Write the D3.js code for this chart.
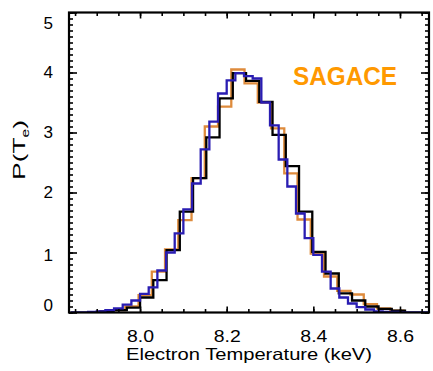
<!DOCTYPE html>
<html>
<head>
<meta charset="utf-8">
<script src="https://cdn.jsdelivr.net/npm/d3@7"></script>
<style>
body { margin: 0; background: #fff; }
text { font-family: "Liberation Sans", Arial, sans-serif; }
</style>
</head>
<body>
<svg id="chart" width="433" height="371"></svg>
<script>
var svg = d3.select('#chart');

// histograms: first bin edge (keV), bin width (keV), P(Te) per bin
const blackStart = 7.9083, blackWidth = 0.03058;
const blackVals = [0.02, 0.04, 0.08, 0.25, 0.54, 1.04, 1.68, 2.24, 2.92, 3.57, 3.99, 3.86,
                   3.51, 2.96, 2.44, 1.68, 1.01, 0.65, 0.32, 0.20, 0.10, 0.06, 0.03];

const orangeStart = 7.9048, orangeWidth = 0.03058;
const orangeVals = [0.02, 0.04, 0.10, 0.29, 0.68, 1.05, 1.54, 2.24, 3.10, 3.43, 4.05, 3.82,
                    3.50, 3.07, 2.32, 1.55, 0.98, 0.60, 0.36, 0.30, 0.14, 0.07, 0.03];

const blueStart = 7.84, blueWidth = 0.02;
const blueVals = [0, 0, 0.01, 0.02, 0.04, 0.07, 0.13, 0.20, 0.31, 0.42, 0.70, 1.00, 1.32,
                  1.72, 2.15, 2.72, 3.18, 3.65, 3.87, 3.99, 3.94, 3.90, 3.50, 3.12, 2.55,
                  2.10, 1.65, 1.24, 0.96, 0.68, 0.40, 0.25, 0.15, 0.09, 0.05, 0.02, 0.01,
                  0.01, 0, 0, 0, 0];

const xMajor = [8.0, 8.2, 8.4, 8.6];
const yMajor = [0, 1, 2, 3, 4, 5];

const margin = {left: 69, right: 4, top: 12.5, bottom: 58.5};
const W = +svg.attr('width');
const H = +svg.attr('height');

const x = d3.scaleLinear().domain([7.836, 8.667]).range([margin.left, W - margin.right]);
const y = d3.scaleLinear().domain([0, 5]).range([H - margin.bottom, margin.top]);

const xMinor = d3.range(7.85, 8.66, 0.05);
const yMinor = d3.range(0, 5.001, 0.1);

svg.append('clipPath').attr('id', 'clip')
    .append('rect')
    .attr('x', margin.left).attr('y', margin.top)
    .attr('width', W - margin.left - margin.right)
    .attr('height', H - margin.top - margin.bottom);

const stepLine = d3.line()
    .x(d => x(d[0]))
    .y(d => y(d[1]))
    .curve(d3.curveStepAfter);

const histPoints = (start, width, vals) => {
    var pts = [[start, 0]];
    vals.forEach((v, i) => pts.push([start + i * width, v]));
    pts.push([start + vals.length * width, 0]);
    return pts;
};

const plot = svg.append('g').attr('clip-path', 'url(#clip)');

const series = [
    {vals: orangeVals, start: orangeStart, width: orangeWidth, color: '#de8b3c'},
    {vals: blackVals, start: blackStart, width: blackWidth, color: '#000000'},
    {vals: blueVals, start: blueStart, width: blueWidth, color: '#2a1db2'}
];

series.forEach(s => {
    plot.append('path')
        .attr('d', stepLine(histPoints(s.start, s.width, s.vals)))
        .attr('fill', 'none')
        .attr('stroke', s.color)
        .attr('stroke-width', 2.3)
        .attr('stroke-linejoin', 'miter');
});

// axes, ticks pointing inward
const axisStyle = g => {
    g.select('.domain').remove();
    g.selectAll('line').attr('stroke', '#000').attr('stroke-width', 1.6);
};

svg.append('g').attr('transform', 'translate(0,' + y(0) + ')')
    .call(d3.axisBottom(x).tickValues(xMinor).tickSizeInner(-3.5).tickSizeOuter(0).tickFormat(''))
    .call(axisStyle);
const xAxis = svg.append('g').attr('transform', 'translate(0,' + y(0) + ')')
    .call(d3.axisBottom(x).tickValues(xMajor).tickSizeInner(-6).tickSizeOuter(0)
        .tickPadding(18.5).tickFormat(d3.format('.1f')))
    .call(axisStyle);
xAxis.selectAll('text')
    .attr('font-size', 16)
    .attr('fill', '#000')
    .attr('textLength', 27)
    .attr('lengthAdjust', 'spacingAndGlyphs');

svg.append('g').attr('transform', 'translate(0,' + y(5) + ')')
    .call(d3.axisTop(x).tickValues(xMinor).tickSizeInner(-3.5).tickSizeOuter(0).tickFormat(''))
    .call(axisStyle);
svg.append('g').attr('transform', 'translate(0,' + y(5) + ')')
    .call(d3.axisTop(x).tickValues(xMajor).tickSizeInner(-6).tickSizeOuter(0).tickFormat(''))
    .call(axisStyle);

svg.append('g').attr('transform', 'translate(' + x.range()[0] + ',0)')
    .call(d3.axisLeft(y).tickValues(yMinor).tickSizeInner(-4).tickSizeOuter(0).tickFormat(''))
    .call(axisStyle);
const yAxis = svg.append('g').attr('transform', 'translate(' + x.range()[0] + ',0)')
    .call(d3.axisLeft(y).tickValues(yMajor).tickSizeInner(-8).tickSizeOuter(0)
        .tickPadding(16).tickFormat(d3.format('d')))
    .call(axisStyle);
yAxis.selectAll('text')
    .attr('font-size', 16.5)
    .attr('fill', '#000')
    .attr('textLength', 9.5)
    .attr('lengthAdjust', 'spacingAndGlyphs')
    .attr('y', d => d === 5 ? 11 : (d === 0 ? -7.5 : (d === 1 ? 2.5 : 0)));

svg.append('g').attr('transform', 'translate(' + x.range()[1] + ',0)')
    .call(d3.axisRight(y).tickValues(yMinor).tickSizeInner(-4).tickSizeOuter(0).tickFormat(''))
    .call(axisStyle);
svg.append('g').attr('transform', 'translate(' + x.range()[1] + ',0)')
    .call(d3.axisRight(y).tickValues(yMajor).tickSizeInner(-8).tickSizeOuter(0).tickFormat(''))
    .call(axisStyle);

// frame
svg.append('rect')
    .attr('x', x.range()[0]).attr('y', y(5))
    .attr('width', x.range()[1] - x.range()[0])
    .attr('height', y(0) - y(5))
    .attr('fill', 'none')
    .attr('stroke', '#000')
    .attr('stroke-width', 2.2);

// axis titles
svg.append('text')
    .attr('x', (x.range()[0] + x.range()[1]) / 2)
    .attr('y', 359.5)
    .attr('text-anchor', 'middle')
    .attr('font-size', 16.5)
    .attr('textLength', 246)
    .attr('lengthAdjust', 'spacingAndGlyphs')
    .text('Electron Temperature (keV)');

const ylab = svg.append('text')
    .attr('transform', 'translate(25,150) rotate(-90) scale(1.55,1)')
    .attr('text-anchor', 'middle')
    .attr('font-size', 17);
ylab.append('tspan').text('P(T');
ylab.append('tspan').attr('font-size', 10).attr('dy', 4).text('e');
ylab.append('tspan').attr('dy', -4).text(')');

svg.append('text')
    .attr('x', 293)
    .attr('y', 85)
    .attr('font-family', '"Open Sans", sans-serif')
    .attr('font-weight', 600)
    .attr('font-size', 25)
    .attr('fill', '#ff9900')
    .attr('textLength', 104)
    .attr('lengthAdjust', 'spacingAndGlyphs')
    .text('SAGACE');
</script>
</body>
</html>
